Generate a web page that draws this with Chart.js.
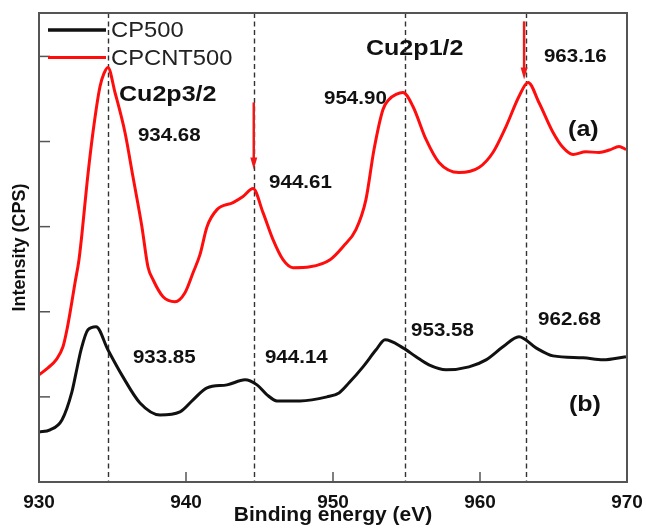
<!DOCTYPE html>
<html>
<head>
<meta charset="utf-8">
<script src="https://cdn.jsdelivr.net/npm/chart.js@4.4.1/dist/chart.umd.min.js"></script>
<style>
  body { margin: 0; background: #fff; }
  canvas { display: block; }
</style>
</head>
<body>
<canvas id="xps" width="646" height="528"></canvas>
<script>
'use strict';

// binding energy (eV) / intensity (arb. units)
let cpcntEnergy = [930.0, 930.61, 931.16, 931.63, 931.9, 932.18, 932.45, 932.72, 932.93, 933.27, 933.67,
  934.15, 934.42, 934.69,
  935.17, 935.85, 936.39, 937.0, 937.41, 937.76, 938.44, 939.25, 939.93, 940.48, 940.95, 941.43, 942.11,
  943.2, 943.88, 944.56, 945.24, 945.92, 946.6, 947.28, 948.44, 949.8, 950.68, 951.56, 952.24, 952.79,
  953.4, 953.81, 954.29, 954.76, 955.44, 956.33, 957.21, 958.57, 959.93, 960.88, 961.77, 962.65, 963.27,
  964.01, 964.97, 965.65, 966.33, 967.2, 968.1, 968.8, 969.46, 969.93];
let cpcntCounts = [1259, 1341, 1435, 1588, 1788, 2059, 2341, 2612, 2929, 3518, 4106,
  4647, 4800, 4871,
  4576, 4106, 3588, 3000, 2529, 2376, 2176, 2118, 2224, 2459, 2671, 3000, 3200,
  3282, 3353, 3447, 3165, 2847, 2612, 2518, 2529, 2612, 2765, 2965, 3318, 3906,
  4376, 4494, 4553, 4576, 4412, 4024, 3753, 3635, 3694, 3871, 4176, 4529, 4694,
  4459, 4106, 3929, 3847, 3880, 3871, 3900, 3941, 3906];

let cpEnergy = [930.0, 930.75, 931.56, 932.24, 932.52, 932.86, 933.33, 933.88, 934.69, 935.71, 936.87, 938.23,
  939.59, 940.48, 941.43, 942.79, 944.01, 944.83, 945.51, 946.19, 947.76, 949.59, 950.41, 951.09, 952.04,
  952.93, 953.54, 954.76, 955.65, 956.53, 957.69, 959.25, 960.41, 961.56, 962.65, 963.81, 964.97, 967.01,
  968.37, 969.93];
let cpCounts = [588, 612, 729, 1060, 1282, 1553, 1788, 1824, 1553, 1235, 929, 788,
  824, 965, 1106, 1141, 1200, 1141, 1024, 953, 953, 1000, 1047, 1165, 1353,
  1553, 1671, 1576, 1471, 1376, 1318, 1353, 1435, 1588, 1706, 1576, 1482, 1459,
  1435, 1471];

let seriesNames = ['CP500', 'CPCNT500'];
let seriesColors = ['#111111', '#ff0d0d'];
let peakLines = [934.68, 944.61, 954.90, 963.16];
let yTickValues = [0, 1000, 2000, 3000, 4000, 5000];

// text notes placed in data units: [text, eV, intensity, size]
let notes = [
  ['Cu2p3/2', 935.44, 4553, 22],
  ['934.68', 936.73, 4059, 18],
  ['944.61', 945.65, 3518, 18],
  ['Cu2p1/2', 952.24, 5082, 22],
  ['963.16', 964.35, 4988, 18],
  ['954.90', 949.39, 4494, 18],
  ['(a)', 965.99, 4141, 22],
  ['933.85', 936.39, 1459, 18],
  ['944.14', 945.37, 1459, 18],
  ['953.58', 955.31, 1776, 18],
  ['962.68', 963.95, 1906, 18],
  ['(b)', 966.05, 906, 22]
];
// red arrows: [eV, from intensity, to intensity]
let arrows = [[944.61, 4459, 3671], [963.0, 5412, 4729]];

function pairs(xs, ys) {
  let out = [];
  for (let i = 0; i < xs.length; i++) out.push({x: xs[i], y: ys[i]});
  return out;
}

function wideText(ctx, txt, x, y, font, sx) {
  ctx.save();
  ctx.font = font;
  ctx.translate(x, y);
  ctx.scale(sx, 1);
  ctx.fillText(txt, 0, 0);
  ctx.restore();
}

let decor = {
  id: 'decor',
  beforeDraw(chart) {
    let ctx = chart.ctx;
    ctx.save();
    ctx.fillStyle = '#fff';
    ctx.fillRect(0, 0, chart.width, chart.height);
    ctx.restore();
  },
  beforeDatasetsDraw(chart) {
    let ctx = chart.ctx, a = chart.chartArea, xs = chart.scales.x;
    ctx.save();
    ctx.strokeStyle = '#333';
    ctx.lineWidth = 1.4;
    ctx.setLineDash([5, 3.5]);
    peakLines.forEach(function (e) {
      let px = Math.round(xs.getPixelForValue(e)) + 0.5;
      ctx.beginPath();
      ctx.moveTo(px, a.top);
      ctx.lineTo(px, a.bottom);
      ctx.stroke();
    });
    ctx.restore();
  },
  afterDatasetsDraw(chart) {
    let ctx = chart.ctx, a = chart.chartArea;
    let xs = chart.scales.x, ys = chart.scales.y;
    ctx.save();
    // frame
    ctx.strokeStyle = '#555';
    ctx.lineWidth = 2;
    ctx.strokeRect(a.left, a.top, a.right - a.left, a.bottom - a.top);
    // inward ticks
    ctx.lineWidth = 1.5;
    xs.ticks.forEach(function (t) {
      if (t.value <= xs.min || t.value >= xs.max) return;
      let px = xs.getPixelForValue(t.value);
      ctx.beginPath(); ctx.moveTo(px, a.bottom); ctx.lineTo(px, a.bottom - 10); ctx.stroke();
    });
    ys.ticks.forEach(function (t) {
      if (t.value <= ys.min || t.value >= ys.max) return;
      let py = ys.getPixelForValue(t.value);
      ctx.beginPath(); ctx.moveTo(a.left, py); ctx.lineTo(a.left + 11, py); ctx.stroke();
    });

    // arrows
    ctx.strokeStyle = ctx.fillStyle = '#ee1a1a';
    ctx.lineWidth = 2.5;
    arrows.forEach(function (r) {
      let px = xs.getPixelForValue(r[0]);
      let y0 = ys.getPixelForValue(r[1]), y1 = ys.getPixelForValue(r[2]);
      ctx.beginPath(); ctx.moveTo(px, y0); ctx.lineTo(px, y1 - 9); ctx.stroke();
      ctx.beginPath();
      ctx.moveTo(px - 3.5, y1 - 12); ctx.lineTo(px + 3.5, y1 - 12); ctx.lineTo(px, y1);
      ctx.closePath(); ctx.fill();
    });

    // notes
    ctx.fillStyle = '#111';
    ctx.textBaseline = 'middle';
    ctx.textAlign = 'left';
    notes.forEach(function (n) {
      wideText(ctx, n[0], xs.getPixelForValue(n[1]), ys.getPixelForValue(n[2]),
        'bold ' + n[3] + 'px "Liberation Sans", Arial, sans-serif', 1.14);
    });

    // legend
    for (let i = 0; i < seriesNames.length; i++) {
      let ly = 30 + i * 27.5;
      ctx.strokeStyle = seriesColors[i];
      ctx.lineWidth = i === 0 ? 3.5 : 3;
      ctx.beginPath(); ctx.moveTo(48, ly); ctx.lineTo(106, ly); ctx.stroke();
      ctx.fillStyle = '#222';
      wideText(ctx, seriesNames[i], 111, ly + 1, '22px "Liberation Sans", Arial, sans-serif', 1.08);
    }
    ctx.restore();
  }
};

let ctx = document.getElementById('xps').getContext('2d');
let chart = new Chart(ctx, {
  type: 'line',
  data: {
    datasets: [{
      label: seriesNames[0],
      data: pairs(cpEnergy, cpCounts),
      borderColor: seriesColors[0],
      borderWidth: 3,
      pointRadius: 0,
      cubicInterpolationMode: 'monotone',
      fill: false
    }, {
      label: seriesNames[1],
      data: pairs(cpcntEnergy, cpcntCounts),
      borderColor: seriesColors[1],
      borderWidth: 3,
      pointRadius: 0,
      cubicInterpolationMode: 'monotone',
      fill: false
    }]
  },
  plugins: [decor],
  options: {
    responsive: false,
    animation: false,
    devicePixelRatio: 1,
    layout: { padding: { top: 13, right: 19, left: 0, bottom: 0 } },
    plugins: { legend: { display: false }, tooltip: { enabled: false } },
    scales: {
      x: {
        type: 'linear',
        min: 930,
        max: 970,
        afterFit: function (s) { s.height = 46; s.paddingLeft = 0; s.paddingRight = 0; },
        grid: { display: false, drawTicks: false },
        border: { display: false },
        ticks: {
          stepSize: 10,
          padding: 9,
          color: '#111',
          font: { family: '"Liberation Sans", Arial', size: 19, weight: 'bold' }
        },
        title: {
          display: true,
          text: 'Binding energy (eV)',
          color: '#111',
          padding: { top: 0, bottom: 0 },
          font: { family: '"Liberation Sans", Arial', size: 21, weight: 'bold' }
        }
      },
      y: {
        type: 'linear',
        min: 0,
        max: 5510,
        afterFit: function (s) { s.width = 39; },
        afterBuildTicks: function (s) {
          s.ticks = yTickValues.map(function (v) { return {value: v}; });
        },
        grid: { display: false, drawTicks: false },
        border: { display: false },
        ticks: { display: false },
        title: {
          display: true,
          text: 'Intensity (CPS)',
          color: '#111',
          padding: { top: 9, bottom: 0 },
          font: { family: '"Liberation Sans", Arial', size: 18, weight: 'bold' }
        }
      }
    }
  }
});
</script>
</body>
</html>
